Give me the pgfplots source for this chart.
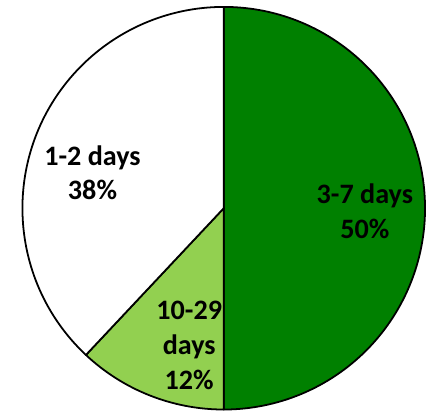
\documentclass[border=0pt]{standalone}
\usepackage{pgfplots}
\pgfplotsset{compat=1.18}
\usepackage{pgfplotstable}
\usepackage{fontspec}
\setmainfont{Carlito}
\definecolor{darkgreen}{RGB}{0,128,0}
\definecolor{lightgreen}{RGB}{146,208,80}

% share of each group, clockwise from the top
\pgfplotstableread[col sep=comma]{
label,pct
3-7 days,50
10-29 days,12
1-2 days,38
}\pietable

\begin{document}
\begin{tikzpicture}
\pgfplotstablegetelem{0}{pct}\of\pietable \let\pA\pgfplotsretval
\pgfplotstablegetelem{1}{pct}\of\pietable \let\pB\pgfplotsretval
\pgfplotstablegetelem{2}{pct}\of\pietable \let\pC\pgfplotsretval
\pgfmathsetmacro\aA{90}
\pgfmathsetmacro\aB{\aA-3.6*\pA}
\pgfmathsetmacro\aC{\aB-3.6*\pB}
\pgfmathsetmacro\aD{\aC-3.6*\pC}
\begin{axis}[
    scale only axis,
    width=428pt, height=416pt,
    xmin=0, xmax=428, ymin=0, ymax=416,
    hide axis, clip=false,
]
\path (axis cs:0,0) (axis cs:428,416);
\filldraw[fill=darkgreen, draw=black, line width=1.8pt, line join=round]
    (axis cs:221,205) -- ++(\aA:204pt) arc[start angle=\aA, end angle=\aB, radius=204pt] -- cycle;
\filldraw[fill=lightgreen, draw=black, line width=1.8pt, line join=round]
    (axis cs:221,205) -- ++(\aB:204pt) arc[start angle=\aB, end angle=\aC, radius=204pt] -- cycle;
\filldraw[fill=white, draw=black, line width=1.8pt, line join=round]
    (axis cs:221,205) -- ++(\aC:204pt) arc[start angle=\aC, end angle=\aD, radius=204pt] -- cycle;

\tikzset{lbl/.style={align=center, font=\fontsize{28.5}{35}\selectfont\bfseries, text=black}}
\node[lbl] at (axis cs:88,241) {1-2 days\\38\%};
\node[lbl] at (axis cs:364,202) {3-7 days\\50\%};
\node[lbl] at (axis cs:186,66) {10-29\\days\\12\%};
\end{axis}
\end{tikzpicture}
\end{document}
